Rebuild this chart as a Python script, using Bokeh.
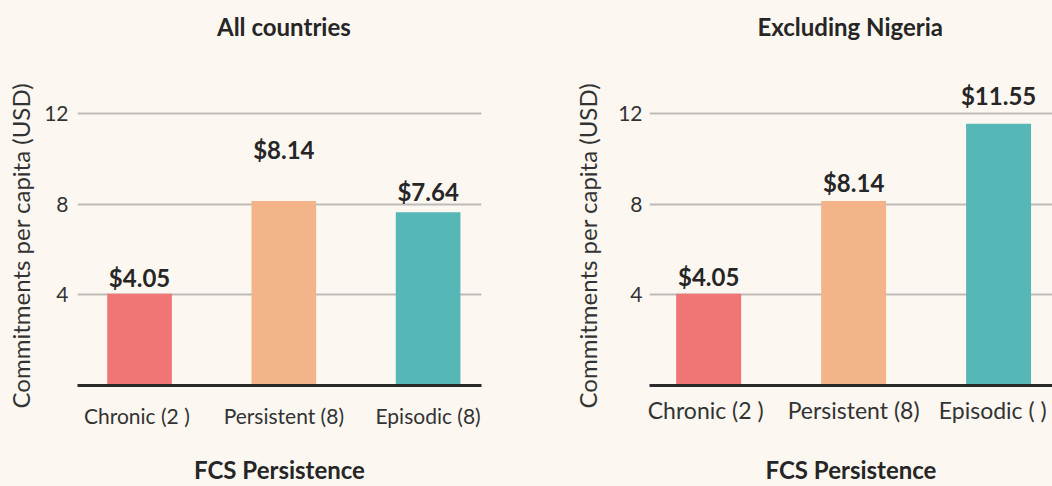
from bokeh.plotting import figure
from bokeh.layouts import row
from bokeh.models import Range1d, FixedTicker, ColumnDataSource, Title
from bokeh.embed import file_html
from bokeh.resources import INLINE
from bokeh.core.properties import value

# ---- data ----
categories_all = ["Chronic (2  )", "Persistent (8)", "Episodic (8)"]
values_all = [4.05, 8.14, 7.64]
categories_exn = ["Chronic (2  )", "Persistent (8)", "Episodic (  )"]
values_exn = [4.05, 8.14, 11.55]
bar_colors = ["#EF7675", "#F4B48A", "#55B7B6"]
y_ticks = [4, 8, 12]
title_all = "All countries"
title_exn = "Excluding Nigeria"
x_title = "FCS Persistence"
y_title = "Commitments per capita (USD)"

# ---- styling (pixel offsets for value labels) ----
label_dy_all = [-16.5, -51.5, -21]
label_dy_exn = [-17, -18, -28]

BG = "#FCF7F1"
FONT = "Lato"
TXT = "#262626"
H = 486


def make_chart(cats, vals, dys, title, width, bl, br, xr, cat_size, cat_standoff,
               title_off, ytick_standoff, ytitle_standoff, x_label_standoff):
    n = len(cats)
    idx = list(range(n))
    src = ColumnDataSource(dict(
        x=idx, v=vals, c=bar_colors[:n],
        label=["$%.2f" % v for v in vals], dy=dys,
    ))
    p = figure(width=width, height=H, x_range=Range1d(*xr), y_range=Range1d(0, 15.22),
               output_backend="svg", toolbar_location=None,
               min_border_left=bl, min_border_right=br, min_border_top=40, min_border_bottom=101,
               background_fill_color=BG, border_fill_color=BG, outline_line_color=None)
    p.title.text = title
    p.title.align = "left"
    p.title.offset = title_off
    p.title.text_font = FONT
    p.title.text_font_size = "24px"
    p.title.text_font_style = "bold"
    p.title.text_color = TXT
    p.title.standoff = 0

    p.vbar(x="x", top="v", bottom=0, width=0.448, color="c", line_color=None, source=src)
    p.text(x="x", y="v", text="label", y_offset="dy", source=src,
           text_align="center", text_baseline="alphabetic",
           text_font=value(FONT), text_font_style="bold", text_font_size="24px",
           text_color=TXT)

    p.xgrid.grid_line_color = None
    p.ygrid.ticker = FixedTicker(ticks=y_ticks)
    p.ygrid.grid_line_color = "#BDBBB8"
    p.ygrid.grid_line_width = 2

    ya = p.yaxis[0]
    ya.ticker = FixedTicker(ticks=y_ticks)
    ya.axis_line_color = None
    ya.major_tick_line_color = None
    ya.minor_tick_line_color = None
    ya.major_tick_out = 0
    ya.major_tick_in = 0
    ya.major_label_standoff = ytick_standoff
    ya.major_label_text_font = FONT
    ya.major_label_text_font_size = "21px"
    ya.major_label_text_color = "#333333"

    xa = p.xaxis[0]
    xa.ticker = FixedTicker(ticks=idx)
    xa.major_label_overrides = {i: c for i, c in enumerate(cats)}
    xa.axis_line_color = "#2A2A2A"
    xa.axis_line_width = 3
    xa.major_tick_line_color = None
    xa.minor_tick_line_color = None
    xa.major_tick_out = 0
    xa.major_tick_in = 0
    xa.major_label_standoff = cat_standoff
    xa.major_label_text_font = FONT
    xa.major_label_text_font_size = cat_size
    xa.major_label_text_color = "#333333"
    xa.axis_label = x_title
    xa.axis_label_standoff = x_label_standoff
    xa.axis_label_text_font = FONT
    xa.axis_label_text_font_size = "24px"
    xa.axis_label_text_font_style = "bold"
    xa.axis_label_text_color = TXT

    p.add_layout(Title(text=y_title, align="left", vertical_align="top", offset=-23,
                       text_font=FONT, text_font_size="24px", text_font_style="normal",
                       text_color="#333333", standoff=ytitle_standoff), "left")
    return p


p1 = make_chart(categories_all, values_all, label_dy_all, title_all, 560, 75, 79,
                (-0.43, 2.37), "21px", 17, 139.5, 9, 10, 24)
p2 = make_chart(categories_exn, values_exn, label_dy_exn, title_exn, 492, 89, 0,
                (-0.408, 2.372), "23px", 10, 108, 7, 24, 28)

layout = row(p1, p2)
html = file_html(layout, INLINE)
html = html.replace("<head>", "<head><style>body{background:%s;}</style>" % BG, 1)
open("out.html", "w").write(html)
